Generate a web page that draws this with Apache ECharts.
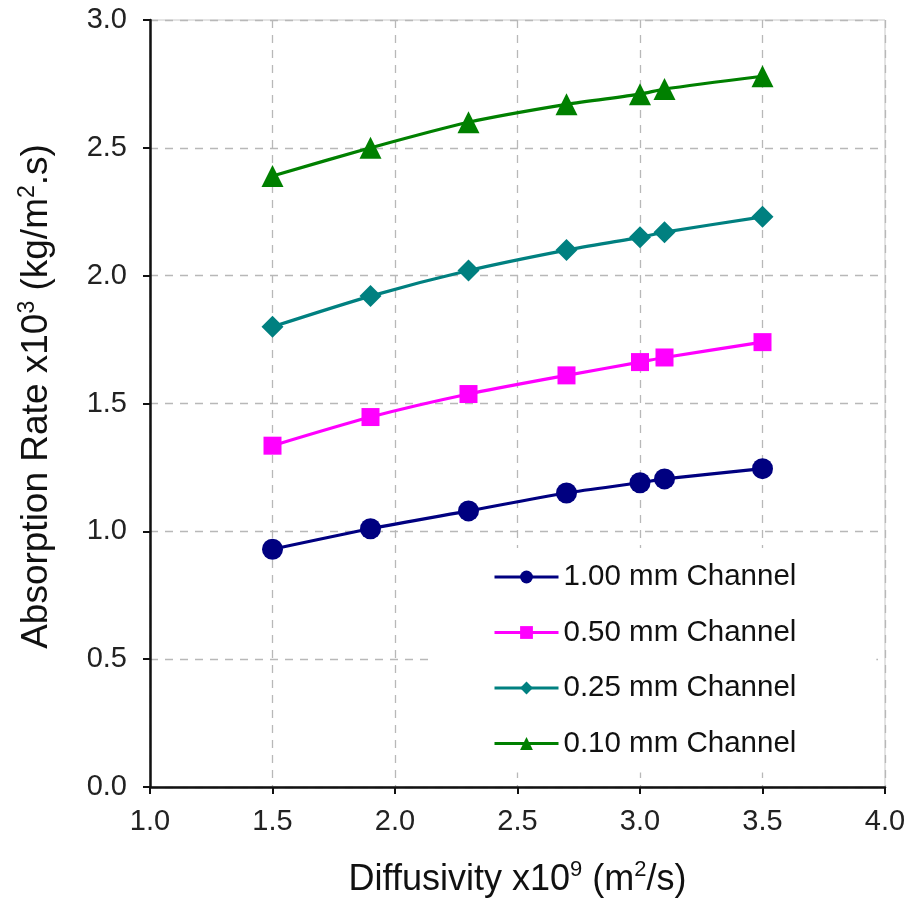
<!DOCTYPE html>
<html><head><meta charset="utf-8">
<script src="https://cdn.jsdelivr.net/npm/echarts@6/dist/echarts.min.js"></script>
<style>html,body{margin:0;padding:0;background:#fff}#c{width:913px;height:903px}</style>
</head><body><div id="c"></div>
<script>
const xValues = [1.5, 1.9, 2.3, 2.7, 3.0, 3.1, 3.5];
const seriesNames = ['1.00 mm Channel', '0.50 mm Channel', '0.25 mm Channel', '0.10 mm Channel'];
const ch100 = [0.93, 1.01, 1.08, 1.15, 1.19, 1.205, 1.245];
const ch050 = [1.335, 1.447, 1.537, 1.61, 1.662, 1.68, 1.74];
const ch025 = [1.80, 1.92, 2.02, 2.10, 2.15, 2.17, 2.23];
const ch010 = [2.39, 2.50, 2.60, 2.67, 2.71, 2.73, 2.78];

const colors = ['#000080', '#FF00FF', '#008080', '#008000'];
const symbols = ['circle', 'rect', 'diamond', 'triangle'];
const sizes = [21, 18, 22, 22];
const allData = [ch100, ch050, ch025, ch010];

const chart = echarts.init(document.getElementById('c'));
const font = 'Liberation Sans, Arial, sans-serif';
function richName(fs) {
  return {
    a: {fontSize: fs, fontFamily: font, color: '#111', lineHeight: 42},
    s: {fontSize: Math.round(fs * 0.62), fontFamily: font, color: '#111', verticalAlign: 'top', lineHeight: 42, padding: [0,0,14,0]}
  };
}
chart.setOption({
  animation: false,
  grid: {left: 150, right: 28, top: 20, bottom: 116, show: true, borderColor: '#c8c8c8', borderWidth: 1},
  legend: {
    orient: 'vertical', left: 430, top: 548,
    itemWidth: 64, itemHeight: 16, itemGap: 25.5,
    backgroundColor: '#fff',
    padding: [14, 80, 14, 63],
    textStyle: {fontSize: 29.5, lineHeight: 28, fontFamily: font, color: '#111'},
    lineStyle: {width: 3},
    data: seriesNames
  },
  xAxis: {
    type: 'value', min: 1.0, max: 4.0, interval: 0.5,
    name: '{a|Diffusivity x10}{s|9}{a| (m}{s|2}{a|/s)}',
    nameLocation: 'middle', nameGap: 72,
    nameTextStyle: {rich: richName(36)},
    axisLine: {onZero: false, lineStyle: {color: '#111', width: 2.5}},
    axisTick: {length: 7, lineStyle: {color: '#111', width: 2}},
    axisLabel: {fontSize: 29, fontFamily: font, color: '#222', margin: 20, formatter: v => v.toFixed(1)},
    splitLine: {show: true, lineStyle: {color: '#b8b8b8', type: [8, 7], width: 1.3}}
  },
  yAxis: {
    type: 'value', min: 0, max: 3.0, interval: 0.5,
    name: '{a|Absorption Rate x10}{s|3}{a| (kg/m}{s|2}{a|.s)}',
    nameLocation: 'middle', nameGap: 92, nameRotate: 90,
    nameTextStyle: {rich: richName(37), padding: [0, 0, 0, 14]},
    axisLine: {onZero: false, lineStyle: {color: '#111', width: 2.5}},
    axisTick: {length: 7, lineStyle: {color: '#111', width: 2}},
    axisLabel: {fontSize: 29, fontFamily: font, color: '#222', margin: 23, formatter: v => v.toFixed(1)},
    splitLine: {show: true, lineStyle: {color: '#b8b8b8', type: [8, 7], width: 1.3}}
  },
  series: seriesNames.map((n, i) => ({
    name: n, type: 'line', smooth: 0.25,
    data: xValues.map((x, j) => [x, allData[i][j]]),
    symbol: symbols[i], symbolSize: sizes[i],
    lineStyle: {color: colors[i], width: 3.2},
    itemStyle: {color: colors[i]},
    z: 3
  }))
});
</script></body></html>
